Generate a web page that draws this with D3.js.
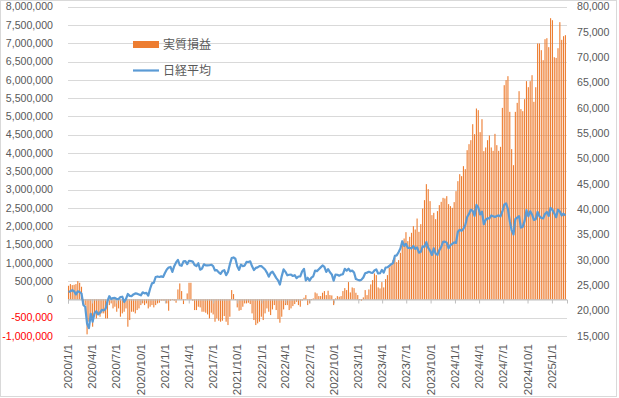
<!DOCTYPE html>
<html>
<head>
<meta charset="utf-8">
<script src="https://cdn.jsdelivr.net/npm/d3@7"></script>
<style>
  html, body { margin: 0; padding: 0; background: #fff; }
  svg { display: block; }
  text { font-family: "Liberation Sans", Arial, sans-serif; fill: #595959; }
  .legend text { font-family: "Noto Sans CJK JP", sans-serif; }
</style>
</head>
<body>
<div id="chart"></div>
<script>
// weekly (Friday) data from 2020/1/3 to 2025/2/21
const weekStart = "2020-01-03";
const weekEnd = "2025-02-21";

// 実質損益 (thousand yen)
const profitK = [
  373, 419, 391, 400, 419, 500, 455, 346, -90, -155,
  -955, -610, -519, -746, -428, -519, -382, -473, -382, -382,
  -519, -519, -155, -109, -246, -200, -337, -246, -473, -382,
  -337, -246, -746, -564, -337, -337, -382, -291, -246, -155,
  -109, -155, -109, -246, -200, -155, -218, -155, -109, -91,
  -36, -36, -36, -109, -309, -36, -18, -36, -91, 273,
  437, 228, -127, 10, 164, 455, 455, -36, -291, -291,
  -200, -218, -337, -337, -364, -410, -519, -364, -410, -610,
  -519, -582, -610, -582, -455, -610, -701, -473, 255, 146,
  -18, -218, -309, -291, -200, -109, -109, -91, -127, -382,
  -564, -701, -655, -610, -473, -564, -382, -246, -337, -428,
  -273, -155, -291, -537, -637, -473, -273, -155, -155, -291,
  -246, -182, -127, -64, -155, -200, -36, 45, 118, -155,
  -109, -20, 27, 191, 164, 91, 91, 182, 228, 118,
  237, 118, 109, -155, 27, 91, 73, 91, 228, 309,
  255, 473, 191, 328, 309, 182, 118, -18, -36, 55,
  255, 118, 273, 410, 528, 710, 664, 328, 300, 473,
  328, 555, 664, 874, 937, 1074, 1147, 1019, 1074, 1274,
  1547, 1665, 1838, 1593, 1711, 1820, 2002, 1911, 2211, 1847,
  2057, 2484, 2713, 3150, 3014, 2686, 2303, 2366, 2194, 2413,
  2577, 2667, 2776, 2759, 2822, 2604, 2549, 2503, 2659, 2959,
  3232, 3423, 3369, 3642, 3560, 4079, 4243, 4352, 4789, 4516,
  5218, 5172, 4571, 4926, 4052, 4153, 4352, 4480, 4153, 4061,
  4525, 4216, 4061, 4170, 5235, 5855, 5992, 6101, 5126, 4107,
  3669, 5126, 5372, 5691, 5200, 5145, 5473, 5965, 5800, 5965,
  6128, 5400, 5800, 6994, 6994, 6812, 6538, 7112, 7139, 6894,
  7686, 7631, 6620, 6600, 6866, 7577, 7094, 7194, 7222
];

// 日経平均 weekly close
const nikkei = [
  23657, 23851, 24041, 23827, 23205, 23828, 23688, 23387, 21142, 20750,
  17431, 16553, 19389, 17820, 19499, 19897, 19262, 19619, 20179, 20037,
  20388, 21878, 22864, 22305, 22478, 22512, 22306, 22291, 22696, 22752,
  21710, 22329, 23289, 22920, 22882, 23205, 23406, 23360, 23205, 23030,
  23620, 23411, 23517, 22977, 24325, 25385, 25527, 26645, 26751, 26653,
  26763, 26656, 27444, 28139, 28519, 28631, 27663, 28779, 29520, 30018,
  28966, 28864, 29718, 29792, 29177, 29854, 29768, 29683, 29021, 28813,
  29358, 28084, 28318, 29149, 28942, 28949, 28964, 29066, 28783, 27940,
  28003, 27548, 27284, 27820, 27977, 27013, 27641, 29128, 30382, 30500,
  30249, 28771, 28049, 29069, 28805, 28893, 29612, 29610, 29746, 28752,
  28030, 28438, 28546, 28782, 28792, 28479, 28124, 27522, 26717, 27440,
  27696, 27122, 26477, 25985, 25163, 26827, 28150, 27666, 26986, 27093,
  27105, 26848, 27004, 26428, 26739, 26782, 27762, 28246, 25963, 26491,
  25936, 26517, 26788, 27915, 27802, 28176, 28547, 28930, 28641, 27651,
  28215, 27568, 27154, 25937, 27116, 27091, 26891, 27105, 27200, 28264,
  27900, 28283, 27778, 27901, 27527, 26235, 26095, 25974, 26120, 26554,
  27383, 27510, 27671, 27513, 27454, 27927, 28144, 27334, 27385, 28041,
  27518, 28493, 28564, 28856, 29158, 29388, 30808, 30916, 31524, 32265,
  33706, 32782, 33189, 32388, 32391, 32304, 32760, 32193, 32474, 31451,
  31625, 32711, 32607, 33533, 32402, 31858, 30995, 32316, 31259, 30992,
  31950, 32568, 33585, 33626, 33432, 32308, 32971, 33170, 33464, 33377,
  35577, 35964, 35751, 36158, 36897, 38487, 39099, 39911, 39689, 38708,
  40888, 40369, 38992, 39524, 37068, 37935, 38236, 38229, 38787, 38647,
  38488, 38684, 38815, 38596, 39583, 40912, 41191, 40064, 37667, 35910,
  35025, 38063, 38364, 38648, 36392, 36582, 37724, 39830, 38636, 39606,
  38982, 37914, 38054, 39500, 38643, 38284, 38208, 39091, 39470, 38702,
  40281, 39895, 39190, 38451, 39931, 39572, 38787, 39149, 38777
];

const leftTicks = d3.range(-1000000, 8000001, 500000);
const rightTicks = d3.range(15000, 80001, 5000);
const legendItems = ["実質損益", "日経平均"];

const width = 619, height = 398;
const plot = { left: 68, right: 567, top: 6.7, bottom: 336 };
const barColor = "#ED7D31";
const lineColor = "#5B9BD5";

const parse = d3.utcParse("%Y-%m-%d");
const dates = d3.utcFriday.range(parse(weekStart), d3.utcDay.offset(parse(weekEnd), 1));
const rows = dates.map((d, i) => ({ date: d, profit: profitK[i] * 1000, nikkei: nikkei[i] }));

const x = d3.scaleUtc()
  .domain([parse("2020-01-01"), parse("2025-02-27")])
  .range([plot.left, plot.right]);
const yL = d3.scaleLinear().domain([-1000000, 8000000]).range([plot.bottom, plot.top]);
const yR = d3.scaleLinear().domain([15000, 80000]).range([plot.bottom, plot.top]);

const svg = d3.select("#chart").append("svg")
  .attr("width", width)
  .attr("height", height);

// chart border
svg.append("rect")
  .attr("x", 0.5).attr("y", 0.5)
  .attr("width", width - 3).attr("height", height - 2)
  .attr("fill", "none")
  .attr("stroke", "#D9D9D9");

// gridlines
svg.append("g")
  .selectAll("line")
  .data(leftTicks)
  .join("line")
  .attr("x1", plot.left).attr("x2", plot.right)
  .attr("y1", d => Math.round(yL(d)) + 0.5)
  .attr("y2", d => Math.round(yL(d)) + 0.5)
  .attr("stroke", "#D9D9D9")
  .attr("stroke-width", 1);

// bars
const barW = 1.1;
svg.append("g")
  .selectAll("rect")
  .data(rows)
  .join("rect")
  .attr("x", d => x(d.date) - barW / 2)
  .attr("width", barW)
  .attr("y", d => yL(Math.max(0, d.profit)))
  .attr("height", d => Math.abs(yL(d.profit) - yL(0)))
  .attr("fill", barColor);

// category axis at zero with quarter ticks
const tickDates = d3.utcMonth.every(3).range(parse("2020-01-01"), parse("2025-01-02"));
const xAxis = d3.axisBottom(x)
  .tickValues(tickDates)
  .tickSize(4)
  .tickFormat("");
const xg = svg.append("g")
  .attr("transform", `translate(0,${Math.round(yL(0)) + 0.5})`)
  .call(xAxis);
xg.select(".domain").attr("stroke", "#BFBFBF");
xg.selectAll(".tick line").attr("stroke", "#BFBFBF");

// x labels (rotated, at the bottom)
const fmtDate = d3.utcFormat("%Y/%-m/%-d");
svg.append("g")
  .selectAll("text")
  .data(tickDates)
  .join("text")
  .attr("transform", d => `translate(${x(d)},344) rotate(-90)`)
  .attr("text-anchor", "end")
  .attr("dy", "0.35em")
  .attr("font-size", "11.5px")
  .text(fmtDate);

// nikkei line
const line = d3.line()
  .x(d => x(d.date))
  .y(d => yR(d.nikkei));
svg.append("path")
  .datum(rows)
  .attr("d", line)
  .attr("fill", "none")
  .attr("stroke", lineColor)
  .attr("stroke-width", 2.2)
  .attr("stroke-linejoin", "round");

// left axis labels
const fmt = d3.format(",");
svg.append("g")
  .selectAll("text")
  .data(leftTicks)
  .join("text")
  .attr("x", 53)
  .attr("y", d => yL(d))
  .attr("dy", "0.35em")
  .attr("text-anchor", "end")
  .attr("font-size", "10.6px")
  .style("fill", d => d < 0 ? "#FF0000" : "#595959")
  .text(d => d < 0 ? "-" + fmt(-d) : fmt(d));

// right axis labels
svg.append("g")
  .selectAll("text")
  .data(rightTicks)
  .join("text")
  .attr("x", 577)
  .attr("y", d => yR(d))
  .attr("dy", "0.35em")
  .attr("font-size", "10.6px")
  .text(d => fmt(d));

// legend
const legend = svg.append("g").attr("class", "legend");
legend.append("rect")
  .attr("x", 133).attr("y", 41)
  .attr("width", 26).attr("height", 7)
  .attr("fill", barColor);
legend.append("line")
  .attr("x1", 133).attr("x2", 159)
  .attr("y1", 70.5).attr("y2", 70.5)
  .attr("stroke", lineColor)
  .attr("stroke-width", 2.2);
legend.selectAll("text")
  .data(legendItems)
  .join("text")
  .attr("x", 163)
  .attr("y", (d, i) => 44.5 + i * 26)
  .attr("dy", "0.35em")
  .attr("font-size", "12px")
  .text(d => d);
</script>
</body>
</html>
